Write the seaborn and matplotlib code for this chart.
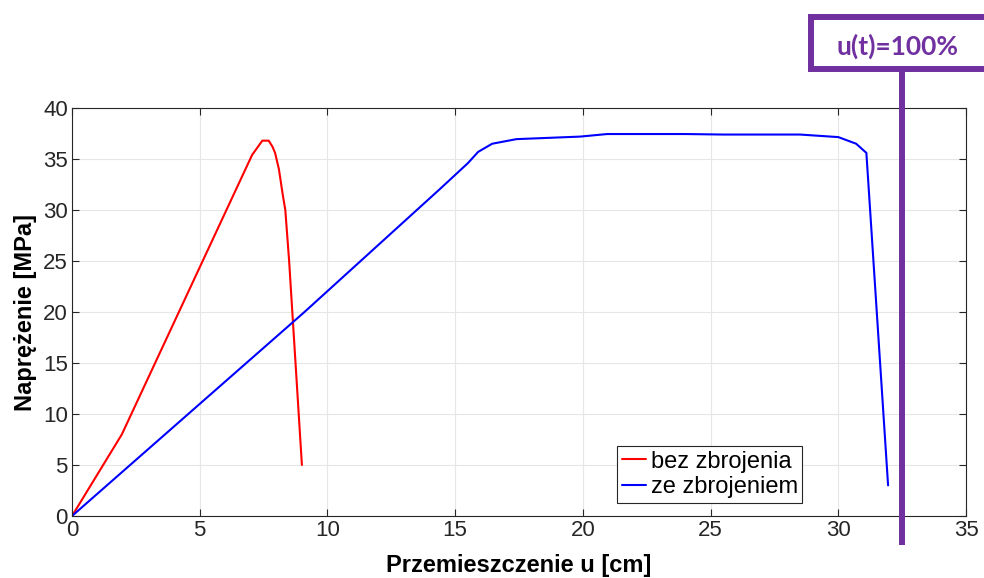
import pandas as pd
import matplotlib.pyplot as plt
import seaborn as sns
from matplotlib.patches import Rectangle

# data
u_bez = [0, 1.95, 7.05, 7.45, 7.7, 7.85, 7.95, 8.1, 8.25, 8.35, 8.5, 9.0]
s_bez = [0, 8.0, 35.4, 36.8, 36.8, 36.2, 35.6, 34.0, 31.5, 30.0, 25.0, 5.0]

u_ze = [0, 9.1, 14.4, 15.5, 15.9, 16.45, 17.4, 19.9, 20.95, 24.0, 25.5, 28.5, 30.0, 30.7, 31.1, 31.95]
s_ze = [0, 20.0, 32.05, 34.6, 35.7, 36.5, 36.95, 37.2, 37.45, 37.45, 37.4, 37.4, 37.15, 36.5, 35.6, 3.0]

labels = ["bez zbrojenia", "ze zbrojeniem"]
marker_u = 32.5
marker_text = "u(t)=100%"

data = pd.concat([
    pd.DataFrame({"u": u_bez, "s": s_bez, "seria": labels[0]}),
    pd.DataFrame({"u": u_ze, "s": s_ze, "seria": labels[1]}),
])

sns.set_style("whitegrid")
plt.rcParams["font.family"] = ["Liberation Sans", "DejaVu Sans"]

fig = plt.figure(figsize=(9.84, 5.78), dpi=100)
ax = fig.add_axes([0.0732, 0.1073, 0.9085, 0.7058])

sns.lineplot(
    data=data, x="u", y="s", hue="seria",
    palette={labels[0]: "#ff0000", labels[1]: "#0000ff"},
    estimator=None, sort=False, linewidth=1.5, ax=ax
)

ax.set_xlim(0, 35)
ax.set_ylim(0, 40)
ax.set_xticks(range(0, 36, 5))
ax.set_yticks(range(0, 41, 5))
ax.grid(True, color="#e6e6e6", linewidth=0.8)
for sp in ax.spines.values():
    sp.set_color("#262626")
    sp.set_linewidth(0.8)
    sp.set_visible(True)
ax.tick_params(direction="in", length=5, width=0.8, colors="#262626",
               labelsize=16, top=True, right=True, bottom=True, left=True,
               labelcolor="#262626", pad=3)

ax.set_xlabel("Przemieszczenie u [cm]", fontsize=17, fontweight="bold",
              labelpad=9, color="black")
ax.set_ylabel("Naprężenie [MPa]", fontsize=17, fontweight="bold",
              labelpad=4, color="black")

leg = ax.legend(loc="lower right", bbox_to_anchor=(0.817, 0.032), fontsize=17,
                frameon=True, fancybox=False, shadow=False, handlelength=1.0,
                handletextpad=0.2, borderpad=0.2, labelspacing=0.15,
                borderaxespad=0)
leg.get_frame().set_edgecolor("#262626")
leg.get_frame().set_linewidth(0.8)
leg.get_frame().set_alpha(1)
for t in leg.get_texts():
    t.set_color("black")

# purple marker with box
purple = "#7030a0"
ax.plot([marker_u, marker_u], [-2.85, 43.7], color=purple, linewidth=4.3,
        clip_on=False, solid_capstyle="butt", zorder=5)
ax.add_patch(Rectangle((28.95, 43.8), 8.0, 5.1, facecolor="white",
                       edgecolor=purple, linewidth=4.3, clip_on=False, zorder=5))
ax.text(32.3, 45.25, marker_text, color=purple, fontsize=19, fontweight="bold",
        family=["Lato", "DejaVu Sans"], ha="center", va="baseline", zorder=6)

plt.savefig("out.png", dpi=100)
